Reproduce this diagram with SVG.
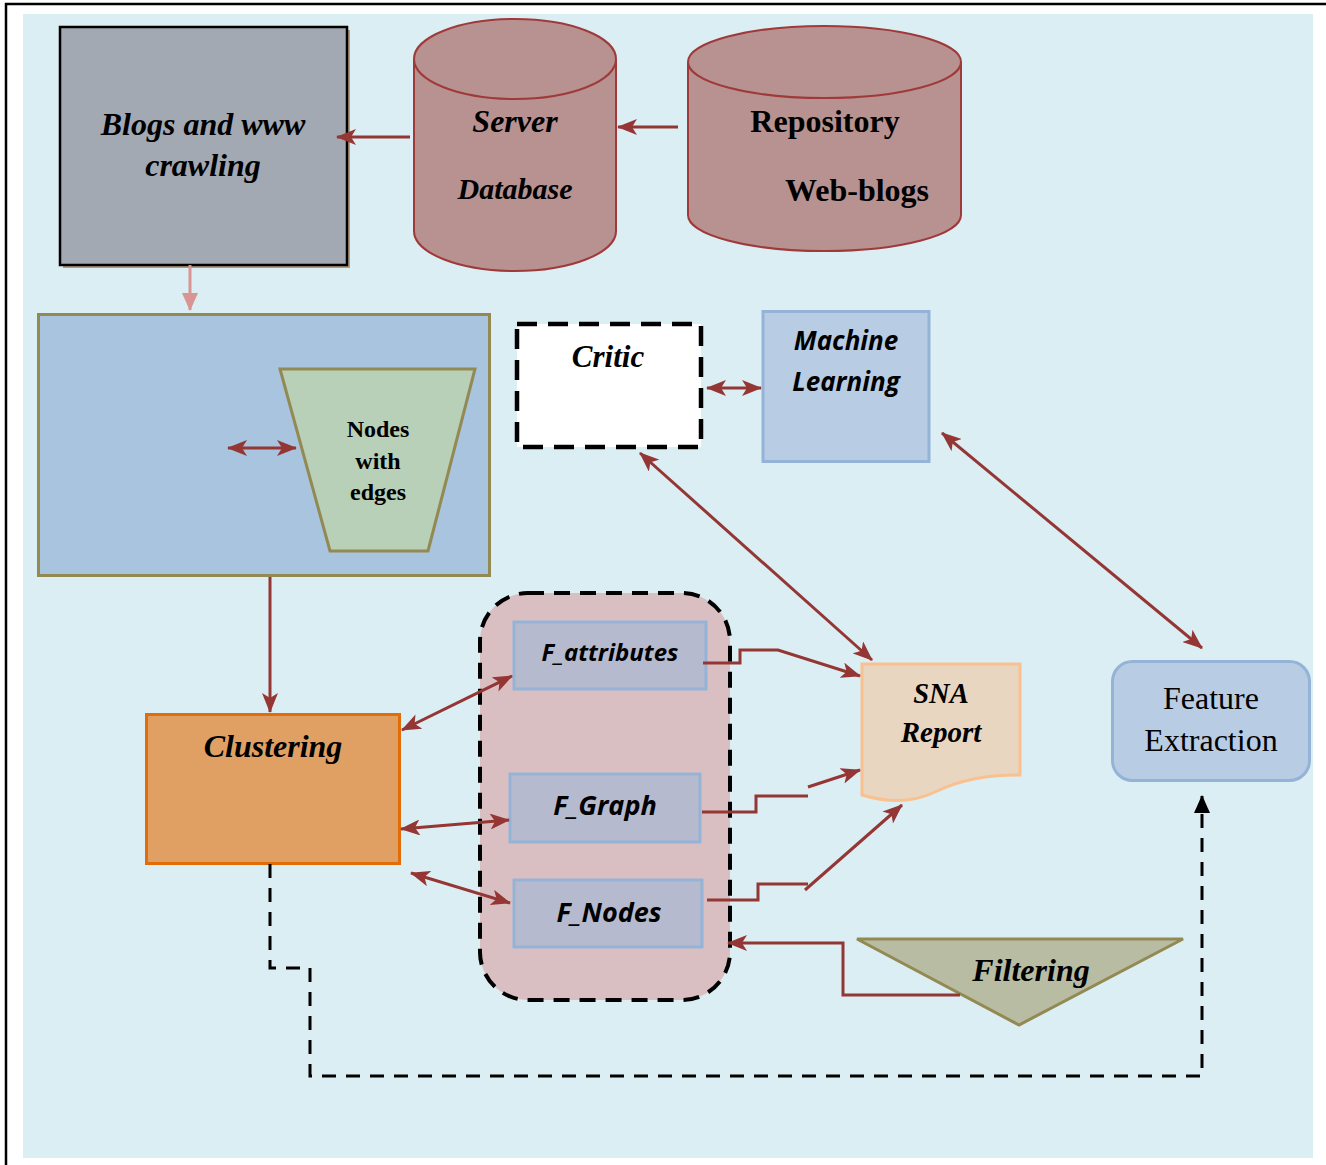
<svg xmlns="http://www.w3.org/2000/svg" width="1326" height="1165" viewBox="0 0 1326 1165">
<defs>
<marker id="ar" markerUnits="userSpaceOnUse" markerWidth="20" markerHeight="16" viewBox="0 0 20 16" refX="19" refY="8" orient="auto-start-reverse">
<path d="M0,0 L20,8 L0,16 L5,8 Z" fill="#943634"/>
</marker>
<marker id="arp" markerUnits="userSpaceOnUse" markerWidth="18" markerHeight="16" viewBox="0 0 18 16" refX="17" refY="8" orient="auto">
<path d="M0,0 L18,8 L0,16 Z" fill="#D99594"/>
</marker>
<marker id="arb" markerUnits="userSpaceOnUse" markerWidth="18" markerHeight="16" viewBox="0 0 18 16" refX="17" refY="8" orient="auto">
<path d="M0,0 L18,8 L0,16 Z" fill="#000"/>
</marker>
</defs>
<style>
.serif{font-family:"Liberation Serif","Times New Roman",serif;}
.sans{font-family:"Open Sans",Lato,sans-serif;}
.bi{font-weight:bold;font-style:italic;}
.b{font-weight:bold;}
.red{fill:none;stroke:#943634;stroke-width:3;}
text{text-anchor:middle;fill:#000;}
</style>
<rect x="0" y="0" width="1326" height="1165" fill="#fff"/>
<path d="M6,1165 L6,4 L1326,4" fill="none" stroke="#000" stroke-width="2.5"/>
<rect x="23" y="14" width="1290" height="1144" fill="#DBEEF4"/>

<g id="blogs">
<rect x="63" y="30" width="287" height="238" fill="#B59B7C"/>
<rect x="60" y="27" width="287" height="238" fill="#A2A9B3" stroke="#000" stroke-width="2.5"/>
<text class="serif bi" x="203" y="135" font-size="32">Blogs and www</text>
<text class="serif bi" x="203" y="176" font-size="32">crawling</text>
</g>

<g id="server">
<path d="M414,60 L414,231 A101,40 0 0 0 616,231 L616,60" fill="#B79290" stroke="#A0393A" stroke-width="2"/>
<ellipse cx="515" cy="59" rx="101" ry="40" fill="#B79290" stroke="#A0393A" stroke-width="2"/>
<text class="serif bi" x="515" y="132" font-size="32">Server</text>
<text class="serif bi" x="515" y="199" font-size="30">Database</text>
</g>

<g id="repository">
<path d="M688,62 L688,215 A136.5,36 0 0 0 961,215 L961,62" fill="#B79290" stroke="#A0393A" stroke-width="2"/>
<ellipse cx="824.5" cy="62" rx="136.5" ry="36" fill="#B79290" stroke="#A0393A" stroke-width="2"/>
<text class="serif b" x="825" y="132" font-size="32">Repository</text>
<text class="serif b" x="857" y="201" font-size="32">Web-blogs</text>
</g>

<g id="graphbox">
<rect x="38.5" y="314.5" width="451" height="261" fill="#A8C4DF" stroke="#938953" stroke-width="3"/>
</g>

<g id="nodes-with-edges">
<polygon points="280,369 475,369 428,551 330,551" fill="#B8CFB8" stroke="#938953" stroke-width="3"/>
<text class="serif b" x="378" y="437" font-size="24">Nodes</text>
<text class="serif b" x="378" y="469" font-size="24">with</text>
<text class="serif b" x="378" y="500" font-size="24">edges</text>
</g>

<g id="critic">
<rect x="517" y="324" width="184" height="123" fill="#fff" stroke="#000" stroke-width="4.5" stroke-dasharray="20,11"/>
<text class="serif bi" x="608" y="367" font-size="31">Critic</text>
</g>

<g id="machine-learning">
<rect x="763" y="311.5" width="166" height="150" fill="#B8CCE4" stroke="#95B3D7" stroke-width="3"/>
<text class="sans bi" x="846" y="350" font-size="26">Machine</text>
<text class="sans bi" x="846" y="391" font-size="26">Learning</text>
</g>

<g id="clustering">
<rect x="146.5" y="714.5" width="253" height="149" fill="#E0A064" stroke="#E36C09" stroke-width="3"/>
<text class="serif bi" x="273" y="757" font-size="32">Clustering</text>
</g>

<g id="features-group">
<rect x="480" y="593" width="250" height="407" rx="48" ry="48" fill="#D9BFC2" stroke="#000" stroke-width="4" stroke-dasharray="16,10"/>
</g>

<g id="f-attributes">
<rect x="514" y="622" width="192" height="67" fill="#B6BACE" stroke="#95B3D7" stroke-width="3"/>
<text class="sans bi" x="610" y="661" font-size="24">F_attributes</text>
</g>

<g id="f-graph">
<rect x="510" y="774" width="190" height="68" fill="#B6BACE" stroke="#95B3D7" stroke-width="3"/>
<text class="sans bi" x="605" y="815" font-size="27">F_Graph</text>
</g>

<g id="f-nodes">
<rect x="514" y="880" width="188" height="67" fill="#B6BACE" stroke="#95B3D7" stroke-width="3"/>
<text class="sans bi" x="609" y="922" font-size="27">F_Nodes</text>
</g>

<g id="sna-report">
<path d="M862,664 L1020,664 L1020,775 C985,775 960,780 935,792 C910,804 885,802 862,795 Z" fill="#E9D6C1" stroke="#FAC090" stroke-width="3"/>
<text class="serif bi" x="941" y="703" font-size="28.5">SNA</text>
<text class="serif bi" x="941" y="742" font-size="29">Report</text>
</g>

<g id="feature-extraction">
<rect x="1112.5" y="661.5" width="197" height="119" rx="20" ry="20" fill="#B8CCE4" stroke="#95B3D7" stroke-width="3"/>
<text class="serif" x="1211" y="709" font-size="32">Feature</text>
<text class="serif" x="1211" y="751" font-size="32">Extraction</text>
</g>

<g id="filtering">
<polygon points="857,939 1183,939 1019,1025" fill="#B7BCA2" stroke="#938953" stroke-width="3"/>
<text class="serif bi" x="1031" y="981" font-size="32">Filtering</text>
</g>

<g id="connectors">
<line class="red" x1="678" y1="127" x2="618" y2="127" marker-end="url(#ar)"/>
<line class="red" x1="410" y1="137" x2="337" y2="137" marker-end="url(#ar)"/>
<line x1="190" y1="265" x2="190" y2="310" stroke="#D99594" stroke-width="3" marker-end="url(#arp)"/>
<line class="red" x1="228" y1="448" x2="296" y2="448" marker-start="url(#ar)" marker-end="url(#ar)"/>
<line class="red" x1="707" y1="388" x2="761" y2="388" marker-start="url(#ar)" marker-end="url(#ar)"/>
<line class="red" x1="640" y1="453" x2="872" y2="660" marker-start="url(#ar)" marker-end="url(#ar)"/>
<line class="red" x1="942" y1="433" x2="1202" y2="648" marker-start="url(#ar)" marker-end="url(#ar)"/>
<line class="red" x1="270" y1="577" x2="270" y2="712" marker-end="url(#ar)"/>
<line class="red" x1="402" y1="730" x2="512" y2="676" marker-start="url(#ar)" marker-end="url(#ar)"/>
<line class="red" x1="401" y1="829" x2="509" y2="820" marker-start="url(#ar)" marker-end="url(#ar)"/>
<line class="red" x1="411" y1="873" x2="510" y2="903" marker-start="url(#ar)" marker-end="url(#ar)"/>
<polyline class="red" points="703,663 740,663 740,650 778,650 860,676" marker-end="url(#ar)"/>
<polyline class="red" points="702,812 756,812 756,796 808,796"/>
<line class="red" x1="808" y1="787" x2="860" y2="770" marker-end="url(#ar)"/>
<polyline class="red" points="707,900 758,900 758,884 808,884"/>
<line class="red" x1="805" y1="890" x2="902" y2="805" marker-end="url(#ar)"/>
<polyline class="red" points="960,995 843,995 843,943 728,943" marker-end="url(#ar)"/>
<polyline points="270,864 270,968 310,968 310,1076 1202,1076 1202,796" fill="none" stroke="#000" stroke-width="3" stroke-dasharray="14,10" marker-end="url(#arb)"/>
</g>
</svg>
